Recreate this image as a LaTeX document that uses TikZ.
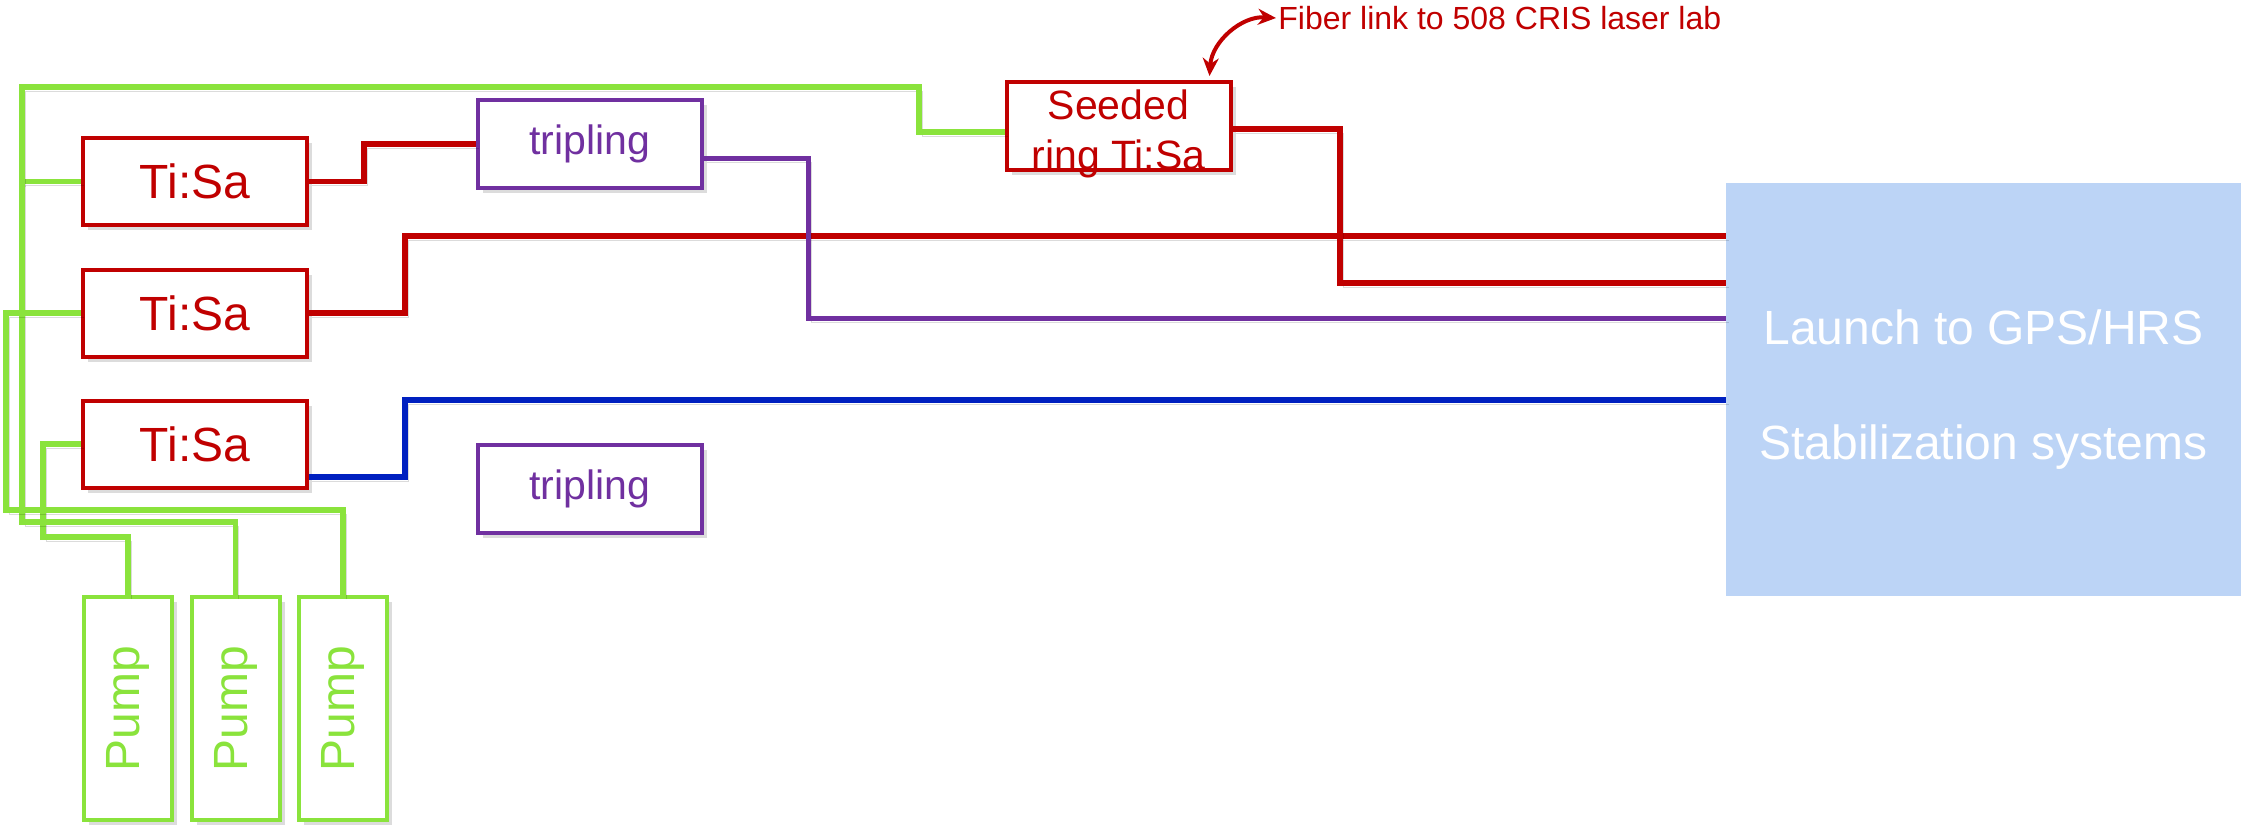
\documentclass[tikz,border=0pt]{standalone}
\usepackage{fontspec}
\setmainfont{Liberation Sans}
\usetikzlibrary{arrows.meta,shadows}
\definecolor{tisared}{HTML}{C00000}
\definecolor{pumpgreen}{HTML}{8AE33C}
\definecolor{tripurple}{HTML}{7030A0}
\definecolor{uvblue}{HTML}{0020C0}
\definecolor{launchblue}{HTML}{BCD4F6}
\begin{document}
\begin{tikzpicture}[x=0.5pt,y=-0.5pt,
  box/.style={draw, line width=2pt, fill=white, inner sep=0pt,
    drop shadow={opacity=0.28, shadow xshift=2.5pt, shadow yshift=-2.5pt}},
  tisabox/.style={box, draw=tisared, text=tisared, minimum width=112pt,
    minimum height=43.5pt, font=\fontsize{24}{28}\selectfont},
  tripbox/.style={box, draw=tripurple, text=tripurple, minimum width=112pt,
    minimum height=44pt, font=\fontsize{20.5}{24}\selectfont},
  pumpbox/.style={box, draw=pumpgreen, text=pumpgreen, minimum width=44pt,
    minimum height=111.5pt, font=\fontsize{24}{28}\selectfont},
  wire/.style={line width=2.75pt, line join=miter,
    preaction={draw=black, opacity=0.14, transform canvas={xshift=1.5pt, yshift=-2pt}}},
  redwire/.style={wire, tisared},
  greenwire/.style={wire, pumpgreen},
  purplewire/.style={wire, tripurple, line width=2.5pt},
  bluewire/.style={wire, uvblue}]
  \useasboundingbox (0,0) rectangle (2241,827);

  % launch box
  \node[fill=launchblue, inner sep=0pt, minimum width=257.5pt, minimum height=206.5pt,
    text=white, align=center, font=\fontsize{24}{57.5}\selectfont]
    (launch) at (1983.5,389.5) {Launch to GPS/HRS\\Stabilization systems};

  % lasers
  \node[tisabox] (tisa1) at (195,181.5) {Ti:Sa};
  \node[tisabox] (tisa2) at (195,313) {Ti:Sa};
  \node[tisabox] (tisa3) at (195,444) {Ti:Sa};
  \node[tripbox] (trip1) at (589.5,144) {tripling};
  \node[tripbox] (trip2) at (589.5,489) {tripling};
  \node[tisabox, minimum height=44pt, font=\fontsize{20.5}{25}\selectfont]
    (seeded) at (1118.5,126)
    {\raisebox{-9.5pt}[0pt][0pt]{\begin{tabular}{@{}c@{}}Seeded\\ring Ti:Sa\end{tabular}}};

  % pumps
  \node[pumpbox] (pump1) at (128,708.5) {\rotatebox{90}{Pump}};
  \node[pumpbox] (pump2) at (235.5,708.5) {\rotatebox{90}{Pump}};
  \node[pumpbox] (pump3) at (343,708.5) {\rotatebox{90}{Pump}};

  % pump beams
  \draw[greenwire] (pump1.north) |- (43,537) |- (tisa3.west);
  \draw[greenwire] (pump2.north) |- (22,522) |- (tisa1.west);
  \draw[greenwire] (pump3.north) |- (6,510) |- (tisa2.west);
  \draw[greenwire] (22,183) |- (919,87) |- ([yshift=-3pt]seeded.west);

  % output beams
  \draw[redwire] (tisa1.east) -- ++(55,0) |- (trip1.west);
  \draw[redwire] (tisa2.east) -| (405,236) -- (launch.west |- 0,236);
  \draw[bluewire] ([yshift=-16.5pt]tisa3.east) -| (405,400) -- (launch.west |- 0,400);
  \draw[purplewire] ([yshift=-7pt]trip1.east) -| (808,318) -- (launch.west |- 0,318);
  \draw[redwire] ([yshift=-1.5pt]seeded.east) -| (1340,283) -- (launch.west |- 0,283);

  % fiber link
  \node[anchor=west, inner sep=1pt, text=tisared, font=\fontsize{16}{19}\selectfont]
    (fiber) at (1276,18) {Fiber link to 508 CRIS laser lab};
  \draw[tisared, line width=2pt, {Stealth[length=9pt,width=8pt]}-{Stealth[length=9pt,width=8pt]}]
    ([xshift=-11.5pt,yshift=2pt]seeded.north east) to[bend left=45] (fiber.west);
\end{tikzpicture}
\end{document}
